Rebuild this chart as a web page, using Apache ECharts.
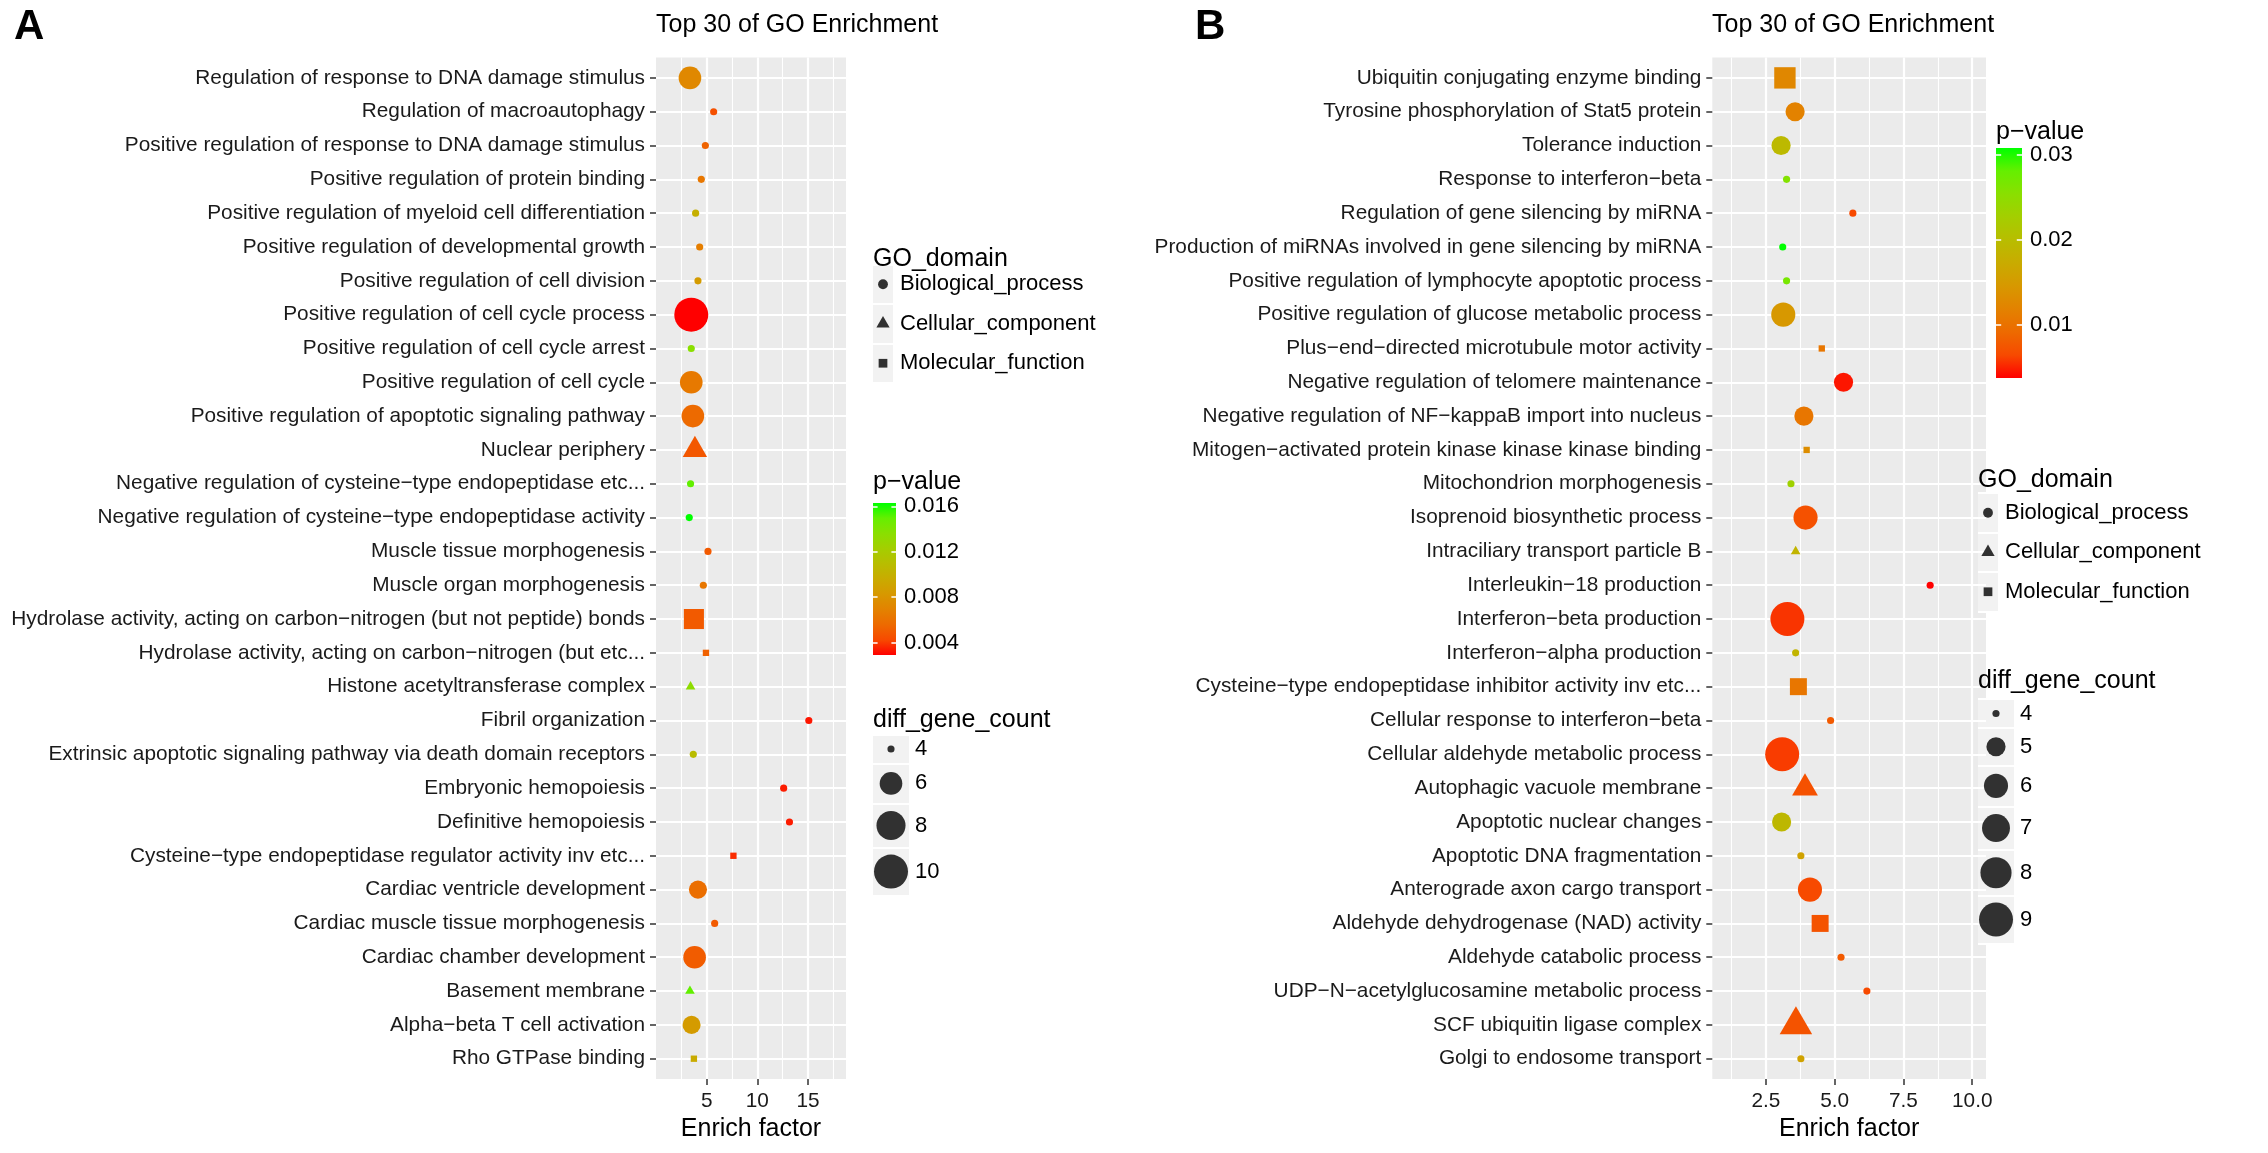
<!DOCTYPE html>
<html><head><meta charset="utf-8">
<script src="https://cdn.jsdelivr.net/npm/echarts@6/dist/echarts.min.js"></script>
<style>html,body{margin:0;padding:0;background:#fff}#c{width:2268px;height:1153px}</style>
</head><body><div id="c"></div>
<script>
// ---------------- DATA ----------------
const termsA = [
 "Regulation of response to DNA damage stimulus",
 "Regulation of macroautophagy",
 "Positive regulation of response to DNA damage stimulus",
 "Positive regulation of protein binding",
 "Positive regulation of myeloid cell differentiation",
 "Positive regulation of developmental growth",
 "Positive regulation of cell division",
 "Positive regulation of cell cycle process",
 "Positive regulation of cell cycle arrest",
 "Positive regulation of cell cycle",
 "Positive regulation of apoptotic signaling pathway",
 "Nuclear periphery",
 "Negative regulation of cysteine\u2212type endopeptidase etc...",
 "Negative regulation of cysteine\u2212type endopeptidase activity",
 "Muscle tissue morphogenesis",
 "Muscle organ morphogenesis",
 "Hydrolase activity, acting on carbon\u2212nitrogen (but not peptide) bonds",
 "Hydrolase activity, acting on carbon\u2212nitrogen (but etc...",
 "Histone acetyltransferase complex",
 "Fibril organization",
 "Extrinsic apoptotic signaling pathway via death domain receptors",
 "Embryonic hemopoiesis",
 "Definitive hemopoiesis",
 "Cysteine\u2212type endopeptidase regulator activity inv etc...",
 "Cardiac ventricle development",
 "Cardiac muscle tissue morphogenesis",
 "Cardiac chamber development",
 "Basement membrane",
 "Alpha\u2212beta T cell activation",
 "Rho GTPase binding"
];
const enrichA = [3.35,5.69,4.87,4.47,3.91,4.31,4.14,3.48,3.48,3.48,3.64,3.84,3.41,3.28,5.13,
                 4.67,3.74,4.93,3.41,15.08,3.68,12.6,13.17,7.64,4.14,5.79,3.81,3.35,3.51,3.74];
const pvalA = [0.0073,0.0045,0.0053,0.0063,0.0099,0.0067,0.0085,0.0029,0.0136,0.0064,0.0056,0.0048,0.0150,0.0163,0.0049,
               0.0063,0.0049,0.0052,0.0134,0.0033,0.0109,0.0034,0.0034,0.0037,0.0058,0.0049,0.0050,0.0150,0.0085,0.0096];
const countA = [6,4,4,4,4,4,4,10,4,6,6,5,4,4,4,4,6,4,4,4,4,4,4,4,5,4,6,4,5,4];
const domainA = ["BP","BP","BP","BP","BP","BP","BP","BP","BP","BP","BP","CC","BP","BP","BP",
                 "BP","MF","MF","CC","BP","BP","BP","BP","MF","BP","BP","BP","CC","BP","MF"];

const termsB = [
 "Ubiquitin conjugating enzyme binding",
 "Tyrosine phosphorylation of Stat5 protein",
 "Tolerance induction",
 "Response to interferon\u2212beta",
 "Regulation of gene silencing by miRNA",
 "Production of miRNAs involved in gene silencing by miRNA",
 "Positive regulation of lymphocyte apoptotic process",
 "Positive regulation of glucose metabolic process",
 "Plus\u2212end\u2212directed microtubule motor activity",
 "Negative regulation of telomere maintenance",
 "Negative regulation of NF\u2212kappaB import into nucleus",
 "Mitogen\u2212activated protein kinase kinase kinase binding",
 "Mitochondrion morphogenesis",
 "Isoprenoid biosynthetic process",
 "Intraciliary transport particle B",
 "Interleukin\u221218 production",
 "Interferon\u2212beta production",
 "Interferon\u2212alpha production",
 "Cysteine\u2212type endopeptidase inhibitor activity inv etc...",
 "Cellular response to interferon\u2212beta",
 "Cellular aldehyde metabolic process",
 "Autophagic vacuole membrane",
 "Apoptotic nuclear changes",
 "Apoptotic DNA fragmentation",
 "Anterograde axon cargo transport",
 "Aldehyde dehydrogenase (NAD) activity",
 "Aldehyde catabolic process",
 "UDP\u2212N\u2212acetylglucosamine metabolic process",
 "SCF ubiquitin ligase complex",
 "Golgi to endosome transport"
];
const enrichB = [3.19,3.56,3.05,3.25,5.66,3.11,3.25,3.13,4.53,5.32,3.88,3.98,3.41,3.94,3.58,
                 8.47,3.28,3.58,3.68,4.85,3.09,3.92,3.07,3.77,4.10,4.47,5.23,6.17,3.59,3.77];
const pvalB = [0.0124,0.0118,0.0194,0.0259,0.0064,0.0308,0.0267,0.0145,0.0105,0.0045,0.0105,0.0132,0.0232,0.0070,0.0186,
               0.0037,0.0056,0.0186,0.0105,0.0078,0.0059,0.0070,0.0191,0.0159,0.0064,0.0072,0.0078,0.0064,0.0072,0.0159];
const countB = [6,5,5,4,4,4,4,6,4,5,5,4,4,6,4,4,9,4,5,4,9,5,5,4,6,5,4,4,6,4];
const domainB = ["MF","BP","BP","BP","BP","BP","BP","BP","MF","BP","BP","MF","BP","BP","CC",
                 "BP","BP","BP","MF","BP","BP","CC","BP","BP","BP","MF","BP","BP","CC","BP"];

const domainNames = {BP:"Biological_process", CC:"Cellular_component", MF:"Molecular_function"};
const xTicksA = [5,10,15], xMinorA = [2.5,7.5,12.5,17.5];
const xTicksB = [2.5,5.0,7.5,10.0], xMinorB = [1.25,3.75,6.25,8.75];
const pTicksA = [0.004,0.008,0.012,0.016];
const pTicksB = [0.01,0.02,0.03];
const sizeBreaksA = [4,6,8,10];
const sizeBreaksB = [4,5,6,7,8,9];

// ---------------- STYLE ----------------
const FONT = '"Liberation Sans", Arial, Helvetica, sans-serif';
const STOPS = ['#FF0000','#F74A00','#ED6A00','#E38200','#D79800','#C9AB00','#B8BD00','#A4CE00','#8ADF00','#65EF00','#00FF00'];
const SYMBOL = {BP:'circle', CC:'triangle', MF:'rect'};
const AXFS = 20.8, LEGFS = 22, LEGTFS = 25;

function diam(c, lo, hi){ const s = 1 + 5*Math.sqrt((c-lo)/(hi-lo)); return 1.887*(2.845*s + 0.945); }
function symDims(dom, d){
  if (dom==='CC') return [1.347*d, 1.166*d];
  if (dom==='MF') return [0.886*d, 0.886*d];
  return [d, d];
}

const grids=[], xAxes=[], yAxes=[], series=[], titles=[], visualMaps=[];

function addText(text, left, top, size, weight){
  titles.push({text, left, top, padding:0, itemGap:0,
    textStyle:{fontSize:size, fontWeight:weight||'normal', color:'#000', fontFamily:FONT}});
}

function addPanel(c){
  const gi = grids.length;
  grids.push({left:c.left, top:c.top, width:c.width, height:c.height, show:true,
              backgroundColor:'#EBEBEB', borderWidth:0});
  const xi = xAxes.length;
  xAxes.push({type:'value', gridIndex:gi, position:'bottom', min:c.xmin, max:c.xmax,
    name:'Enrich factor', nameLocation:'middle', nameGap:36.5,
    nameTextStyle:{fontSize:25, color:'#000', fontFamily:FONT},
    axisLine:{show:false, onZero:false},
    axisTick:{show:true, length:6, customValues:c.majors, lineStyle:{color:'#333', width:1.5}},
    axisLabel:{customValues:c.majors, formatter:c.fmt, margin:11.5, fontSize:AXFS, color:'#1a1a1a', fontFamily:FONT},
    splitLine:{show:true, lineStyle:{color:'#fff', width:2.2}}});
  xAxes.push({type:'value', gridIndex:gi, position:'bottom', min:c.xmin, max:c.xmax,
    axisLine:{show:false, onZero:false}, axisTick:{show:false, customValues:c.minors},
    axisLabel:{show:false, customValues:c.minors},
    splitLine:{show:true, lineStyle:{color:'#fff', width:1.1}}});
  const yi = yAxes.length;
  const idx = c.terms.map((t,i)=>i);
  yAxes.push({type:'value', gridIndex:gi, inverse:true, min:-0.6, max:c.terms.length-0.4,
    axisLine:{show:false, onZero:false},
    axisTick:{show:true, length:6, customValues:idx, lineStyle:{color:'#333', width:1.5}},
    axisLabel:{customValues:idx, formatter:v=>c.terms[Math.round(v)], margin:11, fontSize:AXFS, color:'#1a1a1a', fontFamily:FONT},
    splitLine:{show:true, lineStyle:{color:'#fff', width:2.2}}});
  const sIdx = [];
  ['BP','CC','MF'].forEach(dom=>{
    const data = [];
    c.terms.forEach((t,i)=>{
      if (c.domain[i]!==dom) return;
      const d = diam(c.count[i], c.cmin, c.cmax);
      const item = {value:[c.enrich[i], i, c.pval[i], c.count[i]]};
      if (dom==='CC') item.symbolOffset = [0, -0.194*d];
      data.push(item);
    });
    sIdx.push(series.length);
    series.push({type:'scatter', name:domainNames[dom], xAxisIndex:xi, yAxisIndex:yi,
      symbol:SYMBOL[dom], symbolSize:(v)=>symDims(dom, diam(v[3], c.cmin, c.cmax)),
      data, silent:true, z:5, itemStyle:{opacity:1, borderWidth:0}, emphasis:{disabled:true}});
  });
  visualMaps.push({type:'continuous', show:false, min:c.pmin, max:c.pmax, dimension:2,
    seriesIndex:sIdx, inRange:{color:STOPS}});
}

function addShapeLegend(left, top, kw, kh){
  const gi = grids.length;
  const cats = ['BP','CC','MF'];
  grids.push({left, top, width:kw, height:kh*3, show:true, backgroundColor:'#F2F2F2', borderWidth:0});
  xAxes.push({type:'value', gridIndex:gi, min:-1, max:1, show:false});
  yAxes.push({type:'category', gridIndex:gi, data:cats.map(c=>domainNames[c]), inverse:true, position:'right',
    axisLine:{show:false, onZero:false}, axisTick:{show:false},
    axisLabel:{interval:0, margin:7, fontSize:LEGFS, color:'#000', fontFamily:FONT},
    splitLine:{show:true, interval:0, lineStyle:{color:'#fff', width:2}}});
  const dd = 1.887*(2.845*1.5+0.945);   // default glyph size 1.5
  series.push({type:'scatter', xAxisIndex:xAxes.length-1, yAxisIndex:yAxes.length-1, silent:true,
    data:cats.map(c=>{const it={value:[0, domainNames[c]], symbol:SYMBOL[c], symbolSize:symDims(c, dd)};
      if(c==='CC') it.symbolOffset=[0,-0.194*dd]; return it;}),
    itemStyle:{color:'#000'}, emphasis:{disabled:true}});
}

function addSizeLegend(left, top, kw, breaks, lo, hi){
  const gi = grids.length;
  const ds = breaks.map(b=>diam(b, lo, hi));
  const hs = ds.map(d=>0.7*d+24);
  const bounds = [0]; hs.forEach(h=>bounds.push(bounds[bounds.length-1]+h));
  const centers = hs.map((h,i)=>bounds[i]+h/2);
  const H = bounds[bounds.length-1];
  grids.push({left, top, width:kw, height:H, show:true, backgroundColor:'#F2F2F2', borderWidth:0});
  xAxes.push({type:'value', gridIndex:gi, min:-1, max:1, show:false});
  yAxes.push({type:'value', gridIndex:gi, min:0, max:H, inverse:true, position:'right',
    axisLine:{show:false, onZero:false}, axisTick:{show:false, customValues:bounds},
    axisLabel:{customValues:centers, margin:6, fontSize:LEGFS, color:'#000', fontFamily:FONT,
      formatter:v=>{let k=0,b=1e9; centers.forEach((c,i)=>{if(Math.abs(c-v)<b){b=Math.abs(c-v);k=i;}}); return String(breaks[k]);}},
    splitLine:{show:true, lineStyle:{color:'#fff', width:2}}});
  series.push({type:'scatter', xAxisIndex:xAxes.length-1, yAxisIndex:yAxes.length-1, silent:true,
    data:breaks.map((b,i)=>({value:[0, centers[i]], symbolSize:ds[i]})),
    itemStyle:{color:'#000'}, emphasis:{disabled:true}});
}

function addColorbar(left, top, w, h, pmin, pmax, ticks, digits){
  const gi = grids.length;
  const rev = STOPS.slice().reverse();
  grids.push({left, top, width:w, height:h, show:true, borderWidth:0,
    backgroundColor:{type:'linear', x:0, y:0, x2:0, y2:1,
      colorStops:rev.map((c,i)=>({offset:i/(rev.length-1), color:c}))}});
  xAxes.push({type:'value', gridIndex:gi, min:0, max:1, show:false});
  yAxes.push({type:'value', gridIndex:gi, min:pmin, max:pmax, position:'right',
    axisLine:{show:false, onZero:false},
    axisTick:{show:true, inside:true, length:w/5, customValues:ticks, lineStyle:{color:'#fff', width:1.5}},
    axisLabel:{customValues:ticks, formatter:v=>v.toFixed(digits), margin:8, fontSize:LEGFS, color:'#000', fontFamily:FONT},
    splitLine:{show:false}});
  yAxes.push({type:'value', gridIndex:gi, min:pmin, max:pmax, position:'left',
    axisLine:{show:false, onZero:false},
    axisTick:{show:true, inside:true, length:w/5, customValues:ticks, lineStyle:{color:'#fff', width:1.5}},
    axisLabel:{show:false}, splitLine:{show:false}});
}

// ---------------- PANELS ----------------
addPanel({left:656, top:57.6, width:190, height:1021.4, xmin:0, xmax:18.75,
  majors:xTicksA, minors:xMinorA, fmt:v=>String(v),
  terms:termsA, enrich:enrichA, pval:pvalA, count:countA, domain:domainA,
  cmin:4, cmax:10, pmin:Math.min(...pvalA), pmax:Math.max(...pvalA)});
addPanel({left:1712.3, top:57.6, width:273.7, height:1021.4, xmin:0.55, xmax:10.5,
  majors:xTicksB, minors:xMinorB, fmt:v=>v.toFixed(1),
  terms:termsB, enrich:enrichB, pval:pvalB, count:countB, domain:domainB,
  cmin:4, cmax:9, pmin:Math.min(...pvalB), pmax:Math.max(...pvalB)});

addText('A', 14, 6, 42, 'bold');
addText('B', 1195, 6, 42, 'bold');
addText('Top 30 of GO Enrichment', 656, 12.5, 25);
addText('Top 30 of GO Enrichment', 1712, 12.5, 25);

// legends panel A
addText('GO_domain', 873, 247, LEGTFS);
addShapeLegend(873, 264.5, 20, 39.5);
addText('p\u2212value', 873, 469.5, LEGTFS);
addColorbar(873, 503, 23, 152, Math.min(...pvalA), Math.max(...pvalA), pTicksA, 3);
addText('diff_gene_count', 873, 707.5, LEGTFS);
addSizeLegend(873, 734.5, 36, sizeBreaksA, 4, 10);

// legends panel B
addText('p\u2212value', 1996, 119.5, LEGTFS);
addColorbar(1996, 148, 26, 230, Math.min(...pvalB), Math.max(...pvalB), pTicksB, 2);
addText('GO_domain', 1978, 467.5, LEGTFS);
addShapeLegend(1978, 493, 20, 39.5);
addText('diff_gene_count', 1978, 668.5, LEGTFS);
addSizeLegend(1978, 699, 36, sizeBreaksB, 4, 9);

const chart = echarts.init(document.getElementById('c'), null, {renderer:'canvas', width:2268, height:1153});
chart.setOption({
  animation:false, backgroundColor:'#fff',
  textStyle:{fontFamily:FONT},
  title:titles, grid:grids, xAxis:xAxes, yAxis:yAxes, visualMap:visualMaps, series
});
</script></body></html>
